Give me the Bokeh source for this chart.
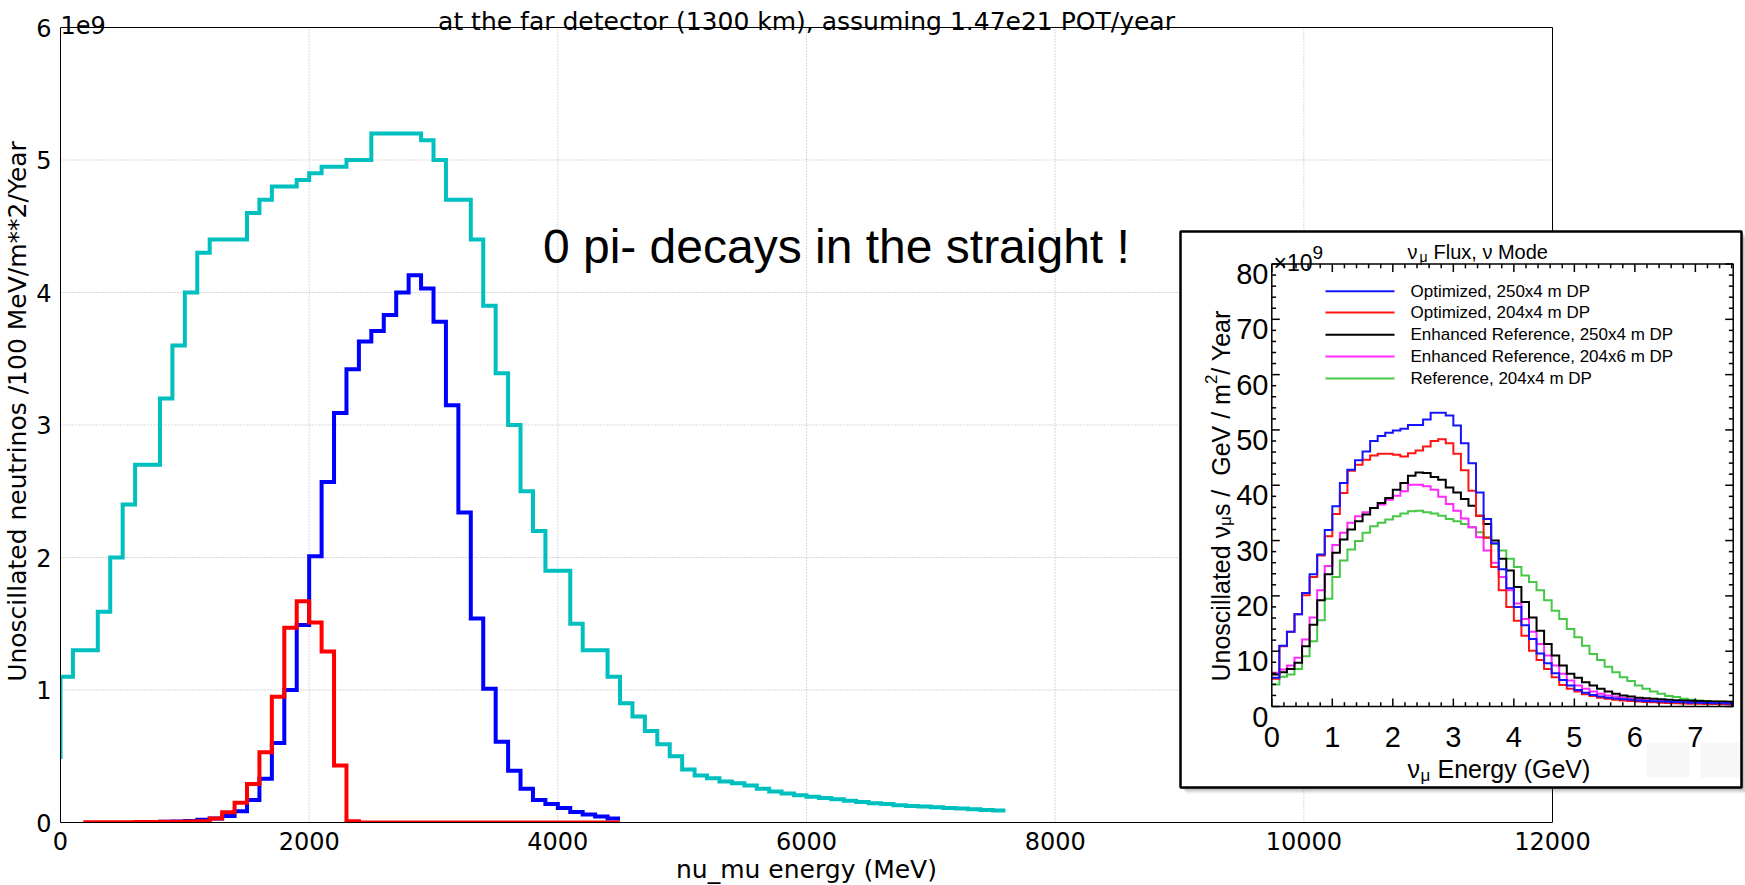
import numpy as np
from bokeh.plotting import figure
from bokeh.models import Range1d, FixedTicker, Label, BasicTickFormatter, Title
from bokeh.core.properties import value
from bokeh.embed import file_html
from bokeh.resources import INLINE

# ---------------- main chart data (flux in units of 1e9) ----------------
title_text = "at the far detector (1300 km), assuming 1.47e21 POT/year"
x_label_text = "nu_mu energy (MeV)"
y_label_text = "Unoscillated neutrinos /100 MeV/m**2/Year"
y_offset_text = "1e9"
note_text = "0 pi- decays in the straight !"
x_ticks = [0, 2000, 4000, 6000, 8000, 10000, 12000]
y_ticks = [0, 1, 2, 3, 4, 5, 6]

step_mev = 100
cyan_start_mev = 0
cyan_flux_e9 = [0.48, 1.10, 1.30, 1.30, 1.59, 2.00, 2.40, 2.70, 2.70, 3.20, 3.60,
                4.00, 4.30, 4.40, 4.40, 4.40, 4.60, 4.70, 4.80, 4.80, 4.85,
                4.90, 4.95, 4.95, 5.00, 5.00, 5.20, 5.20, 5.20, 5.20, 5.15,
                5.00, 4.70, 4.70, 4.40, 3.90, 3.39, 3.00, 2.50, 2.20, 1.90,
                1.90, 1.50, 1.30, 1.30, 1.10, 0.90, 0.80, 0.69, 0.59, 0.50,
                0.40, 0.355, 0.334, 0.31, 0.296, 0.28, 0.254, 0.234, 0.218, 0.205,
                0.195, 0.185, 0.175, 0.165, 0.155, 0.145, 0.14, 0.13, 0.125, 0.12,
                0.115, 0.11, 0.105, 0.10, 0.095, 0.09]
blue_start_mev = 600
blue_flux_e9 = [0.002, 0.003, 0.004, 0.006, 0.008, 0.012, 0.02, 0.03, 0.05, 0.085,
                0.17, 0.33, 0.60, 1.00, 1.49, 2.01, 2.57, 3.09, 3.42, 3.63,
                3.71, 3.83, 4.00, 4.13, 4.03, 3.78, 3.15, 2.34, 1.54, 1.01,
                0.61, 0.39, 0.254, 0.17, 0.14, 0.11, 0.08, 0.06, 0.045, 0.03]
red_start_mev = 200
red_flux_e9 = [0.0, 0.001, 0.001, 0.002, 0.002, 0.003, 0.004, 0.005, 0.006, 0.008,
               0.01, 0.03, 0.077, 0.15, 0.29, 0.53, 0.95, 1.47, 1.67, 1.51,
               1.29, 0.43, 0.01, 0, 0, 0, 0, 0, 0, 0,
               0, 0, 0, 0, 0, 0, 0, 0, 0, 0,
               0, 0, 0, 0]
main_colors = {"cyan": "#00bfbf", "blue": "#0000ff", "red": "#ff0000"}

# ---------------- inset data (nu_mu flux, x1e9 / GeV / m^2 / year) ----------------
inset_title_parts = ["\u03bd", "\u03bc", "Flux, \u03bd Mode"]
inset_xlabel_parts = ["\u03bd", "\u03bc", "Energy (GeV)"]
inset_ylabel_parts = ["Unoscillated \u03bd", "\u03bc", "s / \u00a0GeV / m", "2", " / Year"]
inset_bin_gev = 0.125
inset_x_max = 7.625
inset_y_max = 80
inset_x_ticks = [0, 1, 2, 3, 4, 5, 6, 7]
inset_y_ticks = [0, 10, 20, 30, 40, 50, 60, 70, 80]
inset_names = ["Optimized, 250x4 m DP", "Optimized, 204x4 m DP",
               "Enhanced Reference, 250x4 m DP", "Enhanced Reference, 204x6 m DP",
               "Reference,  204x4 m DP"]
inset_colors = ["#1414ff", "#ff1414", "#000000", "#ff28ff", "#46c846"]
flux_opt_250x4 = [5.2, 11.0, 13.5, 16.7, 20.5, 23.9, 27.5, 31.9, 36.2, 40.4,
                  42.8, 44.5, 46.1, 48.0, 48.9, 49.5, 49.9, 50.2, 50.9, 50.9,
                  51.9, 53.1, 53.1, 52.6, 50.8, 47.6, 44.0, 38.7, 33.9, 29.5,
                  24.8, 21.4, 18.0, 14.7, 12.2, 9.6, 7.8, 6.0, 4.8, 3.8,
                  3.0, 2.5, 2.1, 1.8, 1.6, 1.45, 1.3, 1.2, 1.1, 1.0,
                  0.95, 0.9, 0.85, 0.8, 0.75, 0.7, 0.7, 0.65, 0.6, 0.6, 0.55]
flux_opt_204x4 = [5.0, 10.9, 13.5, 16.7, 20.1, 23.4, 27.3, 30.8, 34.8, 38.6,
                  42.6, 43.7, 44.6, 45.4, 45.7, 45.7, 45.5, 45.2, 45.8, 46.3,
                  47.0, 48.0, 48.3, 47.6, 45.7, 42.7, 39.0, 34.5, 30.5, 25.2,
                  21.0, 18.0, 15.5, 12.8, 10.1, 8.4, 6.8, 5.3, 3.9, 3.2,
                  2.7, 2.2, 1.9, 1.6, 1.4, 1.2, 1.1, 1.0, 0.9, 0.8,
                  0.75, 0.7, 0.65, 0.6, 0.55, 0.5, 0.5, 0.45, 0.45, 0.4, 0.4]
flux_enh_250x4 = [5.8, 6.2, 6.8, 7.9, 10.9, 14.8, 19.2, 23.9, 27.8, 30.2,
                  32.0, 33.5, 34.7, 35.9, 36.8, 37.7, 39.2, 40.4, 41.7, 42.3,
                  42.2, 41.5, 41.0, 39.6, 38.7, 37.5, 36.3, 34.5, 33.0, 30.0,
                  26.7, 24.6, 21.6, 18.9, 16.1, 13.7, 11.3, 9.2, 7.4, 5.9,
                  5.2, 4.4, 3.8, 3.2, 2.7, 2.3, 2.0, 1.8, 1.6, 1.5,
                  1.4, 1.3, 1.2, 1.15, 1.1, 1.05, 1.0, 0.95, 0.9, 0.9, 0.85]
flux_enh_204x6 = [6.1, 6.7, 7.4, 8.8, 12.1, 16.1, 21.0, 25.4, 29.2, 31.4,
                  33.2, 34.4, 35.1, 35.9, 36.5, 37.4, 38.1, 38.9, 40.1, 40.1,
                  39.8, 39.2, 37.9, 36.6, 35.4, 34.0, 32.4, 30.6, 28.2, 26.0,
                  23.4, 21.0, 18.6, 15.8, 13.5, 11.3, 9.2, 7.4, 5.9, 4.7,
                  3.8, 3.2, 2.7, 2.3, 2.0, 1.8, 1.6, 1.4, 1.3, 1.2,
                  1.1, 1.0, 0.95, 0.9, 0.85, 0.8, 0.8, 0.75, 0.7, 0.7, 0.65]
flux_ref_204x4 = [4.0, 5.4, 5.8, 6.8, 9.1, 11.8, 15.6, 19.5, 23.4, 26.4,
                  28.4, 29.9, 31.4, 32.6, 33.2, 33.8, 34.4, 34.9, 35.3, 35.4,
                  35.1, 34.9, 34.5, 33.9, 33.5, 33.0, 32.4, 31.5, 30.6, 29.4,
                  28.2, 26.7, 25.2, 23.7, 22.5, 21.0, 19.2, 17.3, 15.8, 14.0,
                  12.5, 11.0, 9.5, 8.4, 7.2, 6.2, 5.3, 4.6, 3.8, 3.2,
                  2.7, 2.3, 1.9, 1.7, 1.4, 1.2, 1.1, 1.0, 0.9, 0.85, 0.85]
inset_series = [flux_opt_250x4, flux_opt_204x4, flux_enh_250x4, flux_enh_204x6, flux_ref_204x4]

# ---------------- layout (pixels) ----------------
W, H = 1745, 885
FL, FR, FT, FB = 60, 1745, 0, 822            # plotting frame (top reaches canvas top)
MAIN_TOP_PX = 27                             # where y = 6e9 sits
MAIN_XMAX_PX = 1552                          # where 12000 MeV sits
x_max = x_ticks[-1]
y_max = y_ticks[-1]
x_end = x_max * (FR - FL) / (MAIN_XMAX_PX - FL)
y_end = y_max * (FB - FT) / (FB - MAIN_TOP_PX)

# inset inner frame in pixels
IL, IR, IT, IB = 1271.3, 1732.7, 263.5, 706.0
isx = (IR - IL) / inset_x_max
isy = (IB - IT) / inset_y_max


def ipx(px):
    return (px - IL) / isx


def ipy(py):
    return (IB - py) / isy


p = figure(width=W, height=H, x_range=Range1d(0, x_end), y_range=Range1d(0, y_end),
           output_backend="svg", toolbar_location=None,
           min_border_left=FL, min_border_right=0, min_border_top=FT, min_border_bottom=H - FB,
           background_fill_color="white", border_fill_color="white")
p.outline_line_color = None
p.extra_x_ranges = {"ix": Range1d(ipx(FL), ipx(FR))}
p.extra_y_ranges = {"iy": Range1d(ipy(FB), ipy(FT))}

MAIN_FONT = "DejaVu Sans"
FS = "25px"

# axes
p.xaxis.ticker = FixedTicker(ticks=x_ticks)
p.xaxis.formatter = BasicTickFormatter(use_scientific=False)
p.xaxis.bounds = (0, x_max)
p.yaxis.ticker = FixedTicker(ticks=y_ticks)
p.yaxis.bounds = (0, y_max)
for ax in (p.xaxis, p.yaxis):
    ax.major_label_text_font = MAIN_FONT
    ax.major_label_text_font_size = "24px"
    ax.major_label_text_color = "black"
    ax.major_tick_line_color = None
    ax.minor_tick_line_color = None
    ax.axis_line_color = "black"
    ax.axis_line_width = 1
    ax.axis_label_text_font = MAIN_FONT
    ax.axis_label_text_font_size = FS
    ax.axis_label_text_font_style = "normal"
    ax.axis_label_text_color = "black"
p.xaxis.major_label_standoff = 3
p.yaxis.major_label_standoff = 3
p.yaxis.axis_label = y_label_text
p.yaxis.axis_label_standoff = 1

# x-axis title, centred on the 0..12000 axis (text width of DejaVu Sans 25px ~ 261px)
x_label_width_px = 261
p.add_layout(Title(text=x_label_text, align="left",
                   offset=(MAIN_XMAX_PX - FL) / 2 - x_label_width_px / 2,
                   text_font=MAIN_FONT, text_font_size=FS, text_font_style="normal",
                   text_color="black", standoff=0), "below")

# grid (dotted, drawn only inside the 0..12000 x 0..6e9 box)
p.xgrid.visible = False
p.ygrid.visible = False
gx = x_ticks[1:-1]
gy = y_ticks[1:-1]
p.segment(x0=gx, x1=gx, y0=[0] * len(gx), y1=[y_max] * len(gx), line_color="#b0b0b0",
          line_dash="1 2", line_width=1, level="underlay")
p.segment(x0=[0] * len(gy), x1=[x_max] * len(gy), y0=gy, y1=gy, line_color="#b0b0b0",
          line_dash="1 2", line_width=1, level="underlay")
# top and right spines
p.segment(x0=[0, x_max], x1=[x_max, x_max], y0=[y_max, 0], y1=[y_max, y_max],
          line_color="black", line_width=1)


def steps_pre(e0, vals, de):
    xs, ys = [e0], [vals[0]]
    for i in range(1, len(vals)):
        xs += [e0 + (i - 1) * de, e0 + i * de]
        ys += [vals[i], vals[i]]
    return xs, ys


for start, vals, col in [(cyan_start_mev, cyan_flux_e9, main_colors["cyan"]),
                         (blue_start_mev, blue_flux_e9, main_colors["blue"]),
                         (red_start_mev, red_flux_e9, main_colors["red"])]:
    xs, ys = steps_pre(start, vals, step_mev)
    p.line(xs, ys, line_color=col, line_width=4, line_join="miter")

# main labels inside the (extended) frame
p.add_layout(Label(x=x_max / 2, y=y_max, y_offset=6, text=title_text, text_align="center",
                   text_baseline="alphabetic", text_font=MAIN_FONT, text_font_size=FS, text_color="black"))
p.add_layout(Label(x=0, y=y_max, x_offset=0, y_offset=3, text=y_offset_text, text_align="left",
                   text_baseline="alphabetic", text_font=MAIN_FONT, text_font_size="24px", text_color="black"))
p.add_layout(Label(x=3880, y=4.35, text=note_text, text_align="left", text_baseline="alphabetic",
                   text_font="Liberation Sans", text_font_size="48px", text_color="black"))

# ---------------- inset ----------------
R = dict(x_range_name="ix", y_range_name="iy")
IFONT = value("Liberation Sans")
box = (1180, 1741, 231, 787)  # left, right, top, bottom px
for off, alpha in [(6, 0.10), (4, 0.18), (2, 0.25)]:
    p.quad(left=[ipx(box[0] + off)], right=[ipx(box[1] + off)], top=[ipy(box[2] + off)],
           bottom=[ipy(box[3] + off)], fill_color="#555555", fill_alpha=alpha, line_color=None, **R)
p.quad(left=[ipx(box[0])], right=[ipx(box[1])], top=[ipy(box[2])], bottom=[ipy(box[3])],
       fill_color="white", line_color="black", line_width=2.5, **R)
# faint viewer buttons
p.quad(left=[ipx(1646), ipx(1700)], right=[ipx(1689), ipx(1739)], top=[ipy(742), ipy(742)],
       bottom=[ipy(777), ipy(777)], fill_color="#f7f7f7", line_color=None, **R)


def hist_path(vals, w):
    xs, ys = [], []
    for i, v in enumerate(vals):
        xs += [i * w, (i + 1) * w]
        ys += [v, v]
    return xs, ys


for vals, col in reversed(list(zip(inset_series, inset_colors))):
    xs, ys = hist_path(vals, inset_bin_gev)
    p.line(xs, ys, line_color=col, line_width=2, line_join="miter", **R)

# inset frame
p.quad(left=[0], right=[inset_x_max], bottom=[0], top=[inset_y_max], fill_color=None,
       line_color="black", line_width=1.5, **R)
# ticks
maj, mnr = 8.0, 4.3
xmin = [v for v in np.arange(0.2, inset_x_max, 0.2) if abs(v - round(v)) > 1e-6]
ymin = [v for v in range(2, inset_y_max, 2) if v % 10]
tx0, tx1, ty0, ty1 = [], [], [], []
for xv, ln in [(v, maj) for v in inset_x_ticks] + [(v, mnr) for v in xmin]:
    tx0 += [xv, xv]; tx1 += [xv, xv]
    ty0 += [0, inset_y_max]; ty1 += [ln / isy, inset_y_max - ln / isy]
for yv, ln in [(v, maj) for v in inset_y_ticks] + [(v, mnr) for v in ymin]:
    tx0 += [0, inset_x_max]; tx1 += [ln / isx, inset_x_max - ln / isx]
    ty0 += [yv, yv]; ty1 += [yv, yv]
p.segment(x0=tx0, x1=tx1, y0=ty0, y1=ty1, line_color="black", line_width=1.5, **R)

# tick labels
p.text(x=inset_x_ticks, y=[ipy(736)] * len(inset_x_ticks), text=[str(v) for v in inset_x_ticks],
       text_align="center", text_baseline="alphabetic", text_font=IFONT,
       text_font_size=value("29px"), text_color="black", **R)
p.text(x=[ipx(1268)] * len(inset_y_ticks), y=[v - 10.0 / isy for v in inset_y_ticks],
       text=[str(v) for v in inset_y_ticks],
       text_align="right", text_baseline="alphabetic", text_font=IFONT,
       text_font_size=value("29px"), text_color="black", **R)
# x10^9
p.text(x=[ipx(1273)], y=[ipy(262)], text=["\u00d710"], text_align="left", text_baseline="alphabetic",
       text_font=IFONT, text_font_size=value("23px"), text_color="black", **R)
p.text(x=[ipx(1312)], y=[ipy(252)], text=["9"], text_align="left", text_baseline="alphabetic",
       text_font=IFONT, text_font_size=value("19px"), text_color="black", **R)
# title
p.text(x=[ipx(1407), ipx(1419), ipx(1433)], y=[ipy(251), ipy(256), ipy(251)], text=inset_title_parts,
       text_align="left", text_baseline="alphabetic", text_font=IFONT,
       text_font_size=["20px", "14px", "20px"], text_color="black", **R)
# x title
p.text(x=[ipx(1407), ipx(1420), ipx(1437)], y=[ipy(768), ipy(775), ipy(768)], text=inset_xlabel_parts,
       text_align="left", text_baseline="alphabetic", text_font=IFONT,
       text_font_size=["25px", "17px", "25px"], text_color="black", **R)
# y title (rotated, bottom to top)
AW = {'U': .722, 'n': .556, 'o': .556, 's': .5, 'c': .5, 'i': .222, 'l': .222, 'a': .556, 't': .278,
      'e': .556, 'd': .556, ' ': .278, '\u00a0': .278, '\u03bd': .5, '/': .278, 'G': .778, 'V': .667,
      'm': .833, 'Y': .667, 'r': .333, '\u03bc': .577, '2': .556}
sizes = [25, 17, 25, 17, 25]
shifts = [0, 5, 0, -10, 0]
py = 681.0
yx, yy = [], []
for part, fs, sh in zip(inset_ylabel_parts, sizes, shifts):
    yx.append(ipx(1220 + sh)); yy.append(ipy(py))
    py -= sum(AW.get(ch, 0.55) for ch in part) * fs
p.text(x=yx, y=yy, text=inset_ylabel_parts, angle=np.pi / 2, text_align="left",
       text_baseline="alphabetic", text_font=IFONT,
       text_font_size=[f"{s}px" for s in sizes], text_color="black", **R)
# legend
rows_py = [290.7, 312.0, 334.3, 356.0, 378.0]
p.segment(x0=[ipx(1325)] * 5, x1=[ipx(1394)] * 5, y0=[ipy(v) for v in rows_py],
          y1=[ipy(v) for v in rows_py], line_color=inset_colors, line_width=2, **R)
p.text(x=[ipx(1410)] * 5, y=[ipy(v) for v in rows_py], text=inset_names, text_align="left",
       text_baseline="middle", text_font=IFONT, text_font_size=value("17px"), text_color="black", **R)

open("out.html", "w").write(file_html(p, INLINE))
